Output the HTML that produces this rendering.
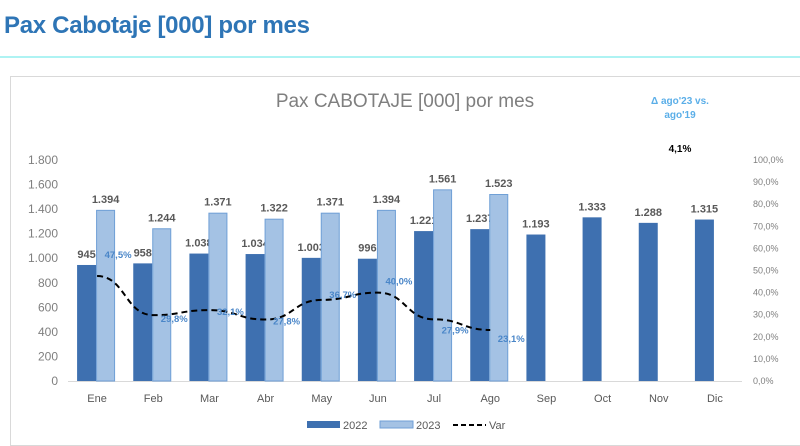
<!DOCTYPE html>
<html><head><meta charset="utf-8">
<style>
body{margin:0;width:800px;height:435px;background:#fff;overflow:hidden;font-family:"Liberation Sans",sans-serif;}
#title{position:absolute;left:4px;top:12px;font-size:24px;font-weight:bold;color:#2e75b6;letter-spacing:-0.3px}
#rule{position:absolute;left:0;top:56px;width:800px;height:2px;background:#aef3f3}
#frame{position:absolute;left:10px;top:76px;width:792px;height:370px;border:1px solid #d9d9d9;box-sizing:border-box}
svg{position:absolute;left:0;top:0}
</style></head><body>
<div id="title">Pax Cabotaje [000] por mes</div>
<div id="rule"></div>
<div id="frame"></div>
<svg id="chart" width="800" height="435" font-family="Liberation Sans, sans-serif"></svg>
<script>
const categories=["Ene","Feb","Mar","Abr","May","Jun","Jul","Ago","Sep","Oct","Nov","Dic"];
const values2022=[945,958,1038,1034,1003,996,1221,1237,1193,1333,1288,1315];
const values2023=[1394,1244,1371,1322,1371,1394,1561,1523];
const varValues=[47.5,29.8,32.1,27.8,36.7,40.0,27.9,23.1];
const leftTicks=[0,200,400,600,800,1000,1200,1400,1600,1800];
const rightTicks=[0,10,20,30,40,50,60,70,80,90,100];
const varLabelDy=[-18,7,5,5,-2,-8,14,12];

const svg=document.getElementById('chart');
const NS='http://www.w3.org/2000/svg';
const x0=68,x1=742,y0=381,yTop=160;
const step=(x1-x0)/categories.length;
const xc=i=>x0+step*(i+0.5)+1;
const yL=v=>y0-(v/1800)*(y0-yTop);
const yR=v=>y0-(v/100)*(y0-yTop);
const fmt=v=>v.toLocaleString('de-DE');
const pct=v=>v.toFixed(1).replace('.',',')+'%';
function el(t,a,txt){const e=document.createElementNS(NS,t);for(const k in a)e.setAttribute(k,a[k]);if(txt!==undefined)e.textContent=txt;svg.appendChild(e);return e;}

let t=el('text',{x:405,y:107,'text-anchor':'middle','font-size':19,fill:'#7f7f7f'},'Pax CABOTAJE [000] por mes');

t=el('text',{x:680,y:104,'text-anchor':'middle','font-size':10,'font-weight':'bold',fill:'#5aaee8'},"Δ ago'23 vs.");

t=el('text',{x:680,y:118,'text-anchor':'middle','font-size':10,'font-weight':'bold',fill:'#5aaee8'},"ago'19");

t=el('text',{x:680,y:152,'text-anchor':'middle','font-size':10,'font-weight':'bold',fill:'#000'},'4,1%');


leftTicks.forEach(v=>{const e=el('text',{x:58,y:yL(v)+4,'text-anchor':'end','font-size':12,fill:'#7f7f7f'},fmt(v));
});
rightTicks.forEach(v=>{const e=el('text',{x:753,y:yR(v)+3,'font-size':9,fill:'#7f7f7f'},pct(v));
});

let ax=el('line',{x1:x0,x2:x1,y1:y0+0.5,y2:y0+0.5,stroke:'#d9d9d9','stroke-width':1});


const bw=19;
categories.forEach((c,i)=>{
  const cx=xc(i);
  const v=values2022[i];
  let r=el('rect',{x:cx-bw-1,y:yL(v),width:bw,height:y0-yL(v),fill:'#3e70b0'});
  
  let l=el('text',{x:cx-bw/2-1,y:yL(v)-7,'text-anchor':'middle','font-size':11,'font-weight':'bold',fill:'#595959'},fmt(v));
  
  if(i<values2023.length){
    const w=values2023[i];
    r=el('rect',{x:cx-0.5,y:yL(w)+0.5,width:bw-1,height:y0-yL(w)-0.5,fill:'#a4c2e4',stroke:'#6f9fd6','stroke-width':1});
    
    l=el('text',{x:cx+bw/2-1,y:yL(w)-7,'text-anchor':'middle','font-size':11,'font-weight':'bold',fill:'#595959'},fmt(w));
    
  }
  l=el('text',{x:cx,y:402,'text-anchor':'middle','font-size':11,fill:'#595959'},c);
  
});

let d='';
varValues.forEach((v,i)=>{
  const px=xc(i),py=yR(v);
  if(i===0)d+='M'+px+' '+py;
  else{const qx=xc(i-1),qy=yR(varValues[i-1]);const mx=(qx+px)/2;d+=' C'+mx+' '+qy+' '+mx+' '+py+' '+px+' '+py;}
});
let p=el('path',{d:d,fill:'none',stroke:'#000','stroke-width':2,'stroke-dasharray':'6,4'});

varValues.forEach((v,i)=>{
  const e=el('text',{x:xc(i)+21,y:yR(v)+varLabelDy[i],'text-anchor':'middle','font-size':9.5,'font-weight':'bold',fill:'#4a86c8'},pct(v));
  
});

let g;
g=el('rect',{x:307,y:421,width:33,height:7,fill:'#3e70b0'});
g=el('text',{x:343,y:429,'font-size':11,fill:'#595959'},'2022');
g=el('rect',{x:380,y:421,width:33,height:7,fill:'#a4c2e4',stroke:'#6f9fd6'});
g=el('text',{x:416,y:429,'font-size':11,fill:'#595959'},'2023');
g=el('line',{x1:453,x2:486,y1:425,y2:425,stroke:'#000','stroke-width':2,'stroke-dasharray':'5,3'});
g=el('text',{x:489,y:429,'font-size':11,fill:'#595959'},'Var');
</script>
</body></html>
